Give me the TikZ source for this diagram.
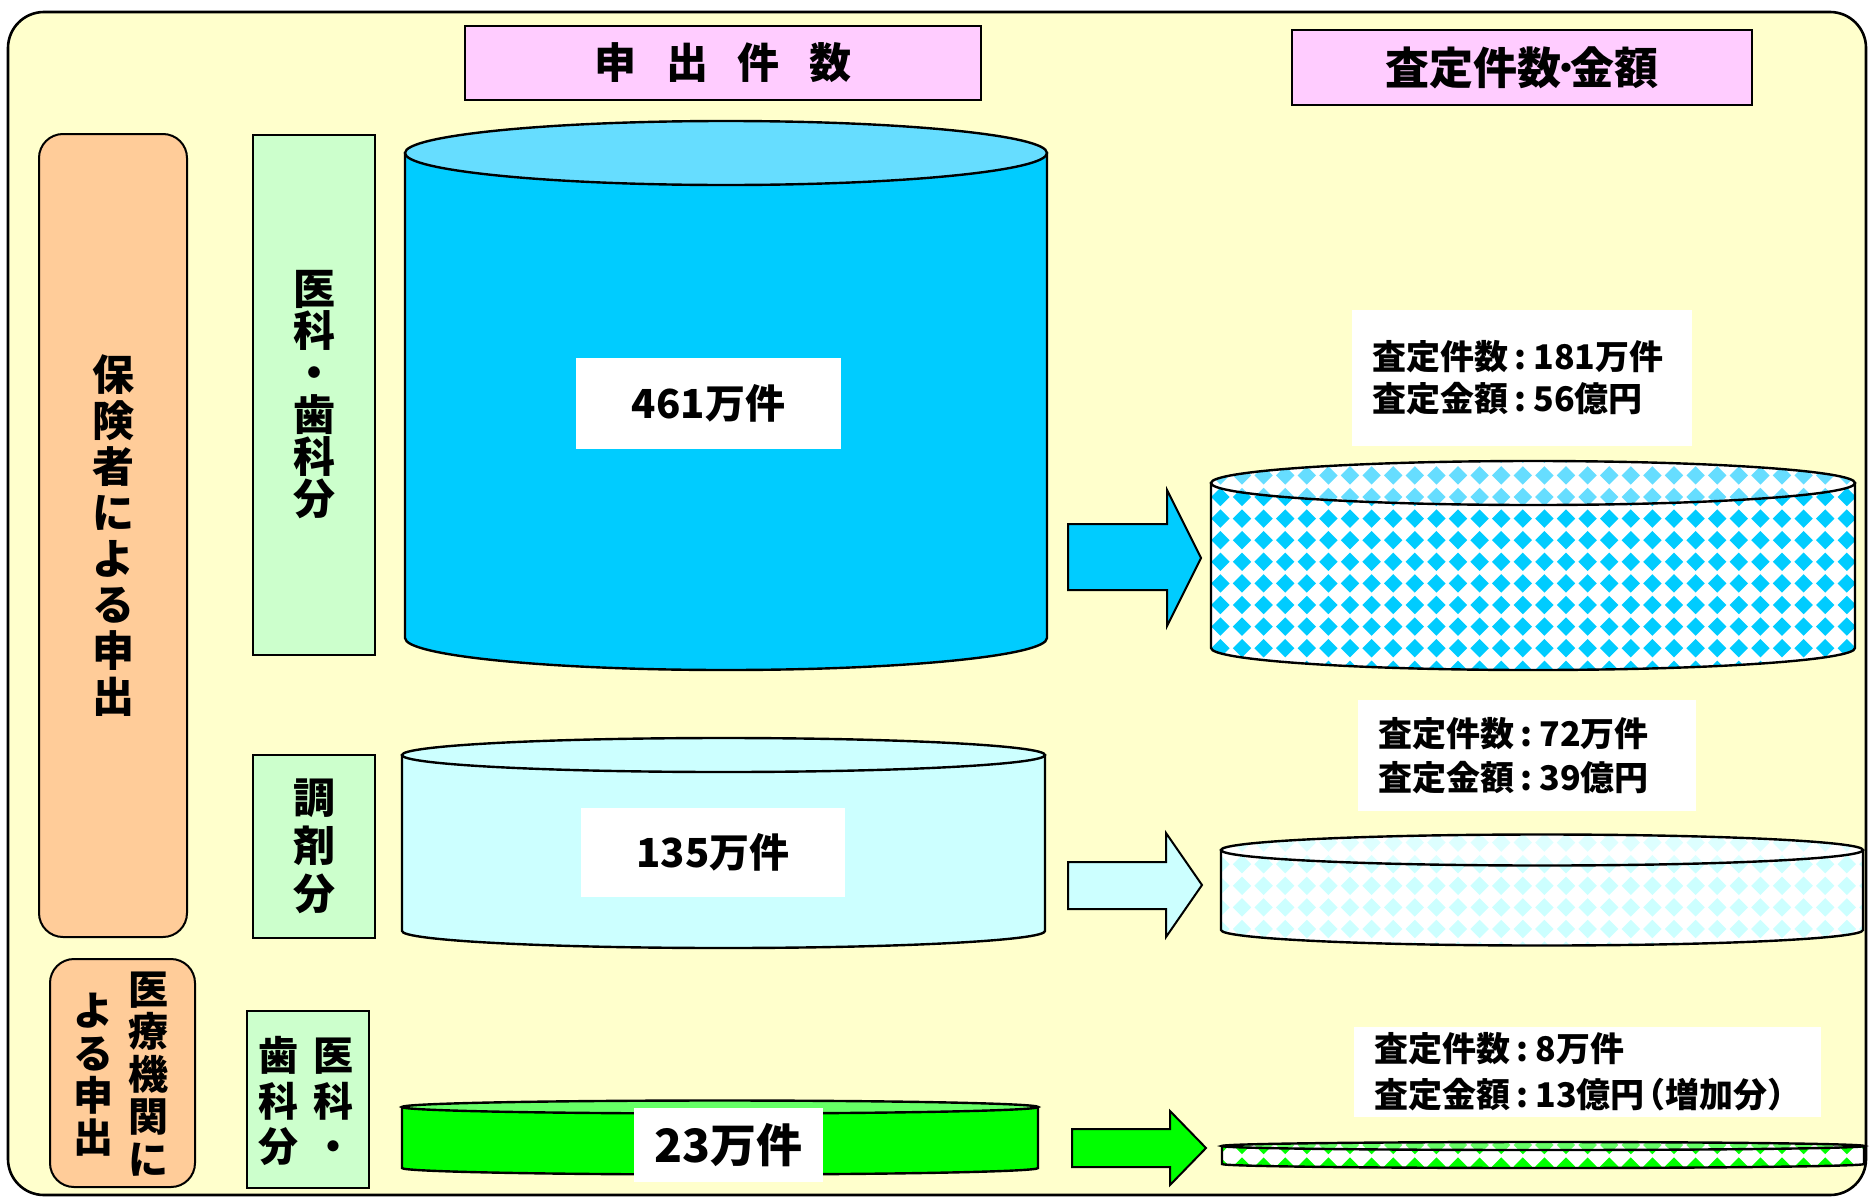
\documentclass[tikz,border=0pt]{standalone}
\usepackage{fontspec}
\setmainfont{Noto Sans CJK JP}
\usetikzlibrary{patterns}
\pgfdeclarepatternformonly{diam}{\pgfpoint{-0.5pt}{-0.5pt}}{\pgfpoint{11.3pt}{11.3pt}}{\pgfpoint{10.8pt}{10.8pt}}{%
  \pgfpathmoveto{\pgfpoint{5.4pt}{0.8pt}}%
  \pgfpathlineto{\pgfpoint{10.0pt}{5.4pt}}%
  \pgfpathlineto{\pgfpoint{5.4pt}{10.0pt}}%
  \pgfpathlineto{\pgfpoint{0.8pt}{5.4pt}}%
  \pgfpathclose\pgfusepath{fill}}
\definecolor{bg}{HTML}{FFFFCC}
\definecolor{pinkbox}{HTML}{FFCCFF}
\definecolor{orangebox}{HTML}{FFCC99}
\definecolor{greenbox}{HTML}{CCFFCC}
\definecolor{cyanA}{HTML}{00CCFF}
\definecolor{cyanTop}{HTML}{66DDFF}
\definecolor{lcyan}{HTML}{CCFFFF}
\definecolor{lcyanTop}{HTML}{DDFFFF}
\definecolor{greenA}{HTML}{00FF00}
\definecolor{greenTop}{HTML}{66FF66}
\newcommand\cln{\hspace{0.2em}:\hspace{0.2em}}
\newcommand\mycyl[7]{%
  \pgfmathsetmacro\cx{(#1+#2)/2}\pgfmathsetmacro\rx{(#2-#1)/2}%
  \draw[cylline,#6] (#1,#3) -- (#1,#4) arc[start angle=180,end angle=0,x radius=\rx,y radius=#5] -- (#2,#3) -- cycle;
  \draw[cylline,#7] (\cx,#3) ellipse[x radius=\rx, y radius=#5];
}
\begin{document}
\begin{tikzpicture}[x=0.5pt,y=-0.5pt,
  every node/.style={inner sep=0pt, outer sep=0pt},
  boxline/.style={draw=black, line width=1pt},
  cylline/.style={draw=black, line width=1.2pt},
  hdr/.style={boxline, fill=pinkbox, font=\fontsize{21pt}{21pt}\selectfont\bfseries},
  vtxt/.style={align=center, font=\fontsize{21pt}{#1}\selectfont\bfseries},
  lbl/.style={fill=white, align=left, inner xsep=10pt, font=\fontsize{17pt}{21pt}\selectfont\bfseries},
  numlbl/.style={fill=white, font=\fontsize{20pt}{20pt}\selectfont\bfseries},
  arrowline/.style={draw=black, line width=1pt, line join=miter}]
\useasboundingbox (0,0) rectangle (1871,1199);
\fill[white] (0,0) rectangle (1871,1199);
\draw[line width=1.3pt, fill=bg, rounded corners=18pt] (8,12) rectangle (1866,1195);

% headers
\node[hdr, minimum width=258pt, minimum height=37pt] (h1) at (723,63) {申\hspace{0.7em}出\hspace{0.7em}件\hspace{0.7em}数};
\node[hdr, minimum width=230pt, minimum height=37.5pt, font=\fontsize{22pt}{22pt}\selectfont\bfseries] (h2) at (1522,67.5) {査定件数\hspace{-0.15em}･\hspace{-0.15em}金額};

% left labels
\node[boxline, fill=orangebox, rounded corners=12pt, minimum width=74pt, minimum height=401.5pt, vtxt=23pt] (o1) at (113,535.5) {保\\険\\者\\に\\よ\\る\\申\\出};
\node[boxline, fill=greenbox, minimum width=61pt, minimum height=260pt, vtxt=21pt] (g1) at (314,395) {医\\科\\・\\歯\\科\\分};
\node[boxline, fill=greenbox, minimum width=61pt, minimum height=91.5pt, vtxt=24pt] (g2) at (314,846.5) {調\\剤\\分};
\node[boxline, fill=orangebox, rounded corners=12pt, minimum width=72.5pt, minimum height=114pt] (o2) at (122.5,1073) {};
\node[vtxt=21.2pt, font=\fontsize{20pt}{21.2pt}\selectfont\bfseries] (o2r) at (148,1074) {医\\療\\機\\関\\に};
\node[vtxt=21.2pt, font=\fontsize{20pt}{21.2pt}\selectfont\bfseries] (o2l) at (93,1075) {よ\\る\\申\\出};
\node[boxline, fill=greenbox, minimum width=61pt, minimum height=88.5pt] (g3) at (308,1099.5) {};
\node[vtxt=22.8pt, font=\fontsize{20pt}{22.8pt}\selectfont\bfseries] (g3r) at (333,1100) {医\\科\\・};
\node[vtxt=22.8pt, font=\fontsize{20pt}{22.8pt}\selectfont\bfseries] (g3l) at (278,1101) {歯\\科\\分};

% application cylinders
\mycyl{405}{1047}{153}{638}{32}{fill=cyanA}{fill=cyanTop}
\mycyl{402}{1045}{755}{931}{17}{fill=lcyan}{fill=lcyan}
\mycyl{402}{1038}{1107}{1168}{6.5}{fill=greenA}{fill=greenTop}
\node[numlbl, minimum width=132.5pt, minimum height=45.5pt] (n1) at (708.5,403.5) {461万件};
\node[numlbl, minimum width=132pt, minimum height=44.5pt] (n2) at (713,852.5) {135万件};
\node[numlbl, minimum width=94.5pt, minimum height=37pt, font=\fontsize{23pt}{23pt}\selectfont\bfseries] (n3) at (728.5,1145) {23万件};

% block arrows
\draw[arrowline, fill=cyanA] (1068,524) -- (1167,524) -- (1167,490) -- (1201,558) -- (1167,626) -- (1167,590) -- (1068,590) -- cycle;
\draw[arrowline, fill=lcyan] (1068,862) -- (1166,862) -- (1166,833) -- (1202,885) -- (1166,937) -- (1166,909) -- (1068,909) -- cycle;
\draw[arrowline, fill=greenA] (1072,1129) -- (1170,1129) -- (1170,1111) -- (1206,1148) -- (1170,1185) -- (1170,1167) -- (1072,1167) -- cycle;

% result cylinders (patterned)
\mycyl{1211}{1855}{483}{648}{22}{preaction={fill=white}, pattern=diam, pattern color=cyanA}{preaction={fill=white}, pattern=diam, pattern color=cyanTop}
\mycyl{1221}{1863}{850}{930}{15.5}{preaction={fill=white}, pattern=diam, pattern color=lcyan}{preaction={fill=white}, pattern=diam, pattern color=lcyanTop}
\mycyl{1222}{1864}{1146}{1164}{4}{preaction={fill=white}, pattern=diam, pattern color=greenA}{preaction={fill=white}, pattern=diam, pattern color=greenTop}

% result labels
\node[lbl, text width=150pt, minimum height=68pt] (r1) at (1522,378) {査定件数\cln 181万件\\査定金額\cln 56億円};
\node[lbl, text width=149pt, minimum height=55.5pt, font=\fontsize{17pt}{22pt}\selectfont\bfseries] (r2) at (1527,755.5) {査定件数\cln 72万件\\査定金額\cln 39億円};
\node[lbl, text width=213.5pt, minimum height=45pt, font=\fontsize{17pt}{23pt}\selectfont\bfseries] (r3) at (1587.5,1072) {\mbox{査定件数\cln 8万件}\\\mbox{査定金額\cln 13億円\hspace{-0.4em}（増加分）}};
\end{tikzpicture}
\end{document}
